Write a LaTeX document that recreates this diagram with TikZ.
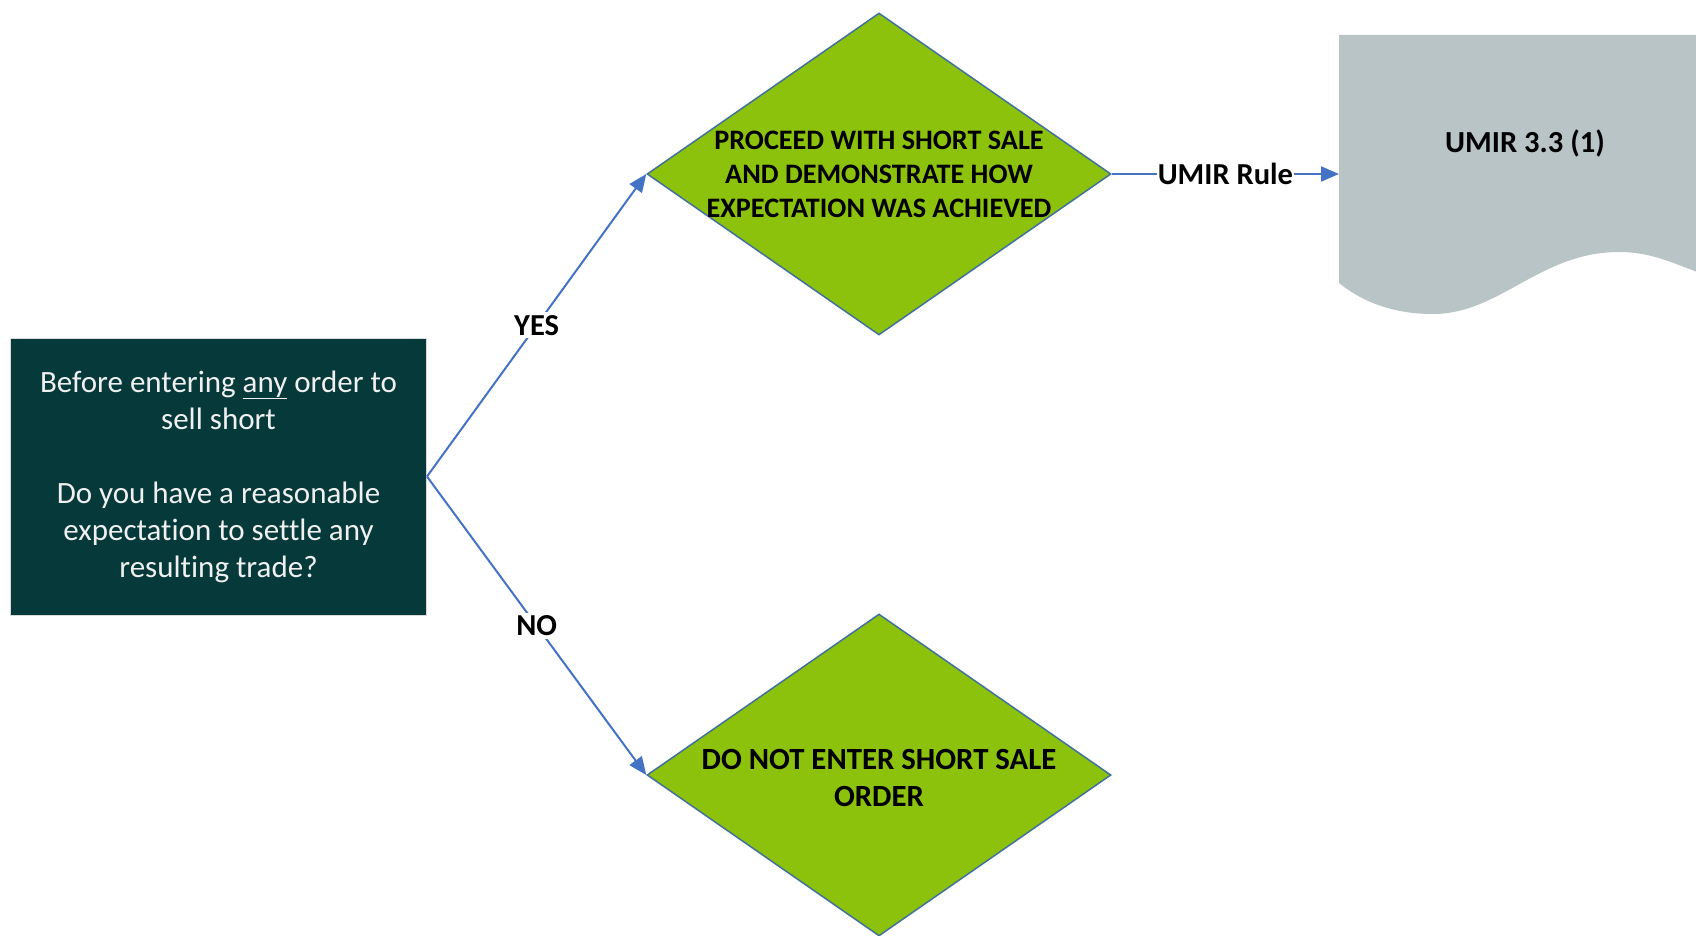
\documentclass[tikz,border=0pt]{standalone}
\usepackage{fontspec}
\setmainfont[Ligatures={NoCommon}]{Carlito}
\usetikzlibrary{shapes.geometric,arrows.meta}
\definecolor{darkteal}{HTML}{06393A}
\definecolor{limegreen}{HTML}{8CC20C}
\definecolor{docgray}{HTML}{B8C4C6}
\definecolor{edgeblue}{HTML}{41719C}
\definecolor{arrowblue}{HTML}{4472C4}
\tikzset{
  decision/.style={diamond, draw=edgeblue, line width=1.5pt, fill=limegreen,
    minimum width=464pt, minimum height=322pt, inner sep=0pt},
  dtext/.style={align=center, text=black, inner sep=0pt},
  question/.style={rectangle, fill=darkteal, draw=black!15, line width=1pt,
    minimum width=416pt, minimum height=277pt, inner sep=0pt,
    align=center, text=white!94!black, font=\fontsize{31}{37}\selectfont},
  conn/.style={draw=arrowblue, line width=2pt, -{Triangle[length=18pt,width=15pt]}},
  lbl/.style={fill=white, inner sep=3pt, text=black,
    font=\fontsize{30.5}{36}\selectfont\bfseries}
}
\begin{document}
\begin{tikzpicture}[x=1pt,y=-1pt]
\useasboundingbox (0,0) rectangle (1696,936);
% question box
\node[question] (q) at (218.5,476.5) {Before entering \underline{any} order to\\ sell short\\[37pt]
Do you have a reasonable\\ expectation to settle any\\ resulting trade?};
% decisions
\node[decision] (d1) at (879,174) {};
\node[dtext, font=\fontsize{28.2}{34}\selectfont\bfseries] (d1t) at (879,174)
  {PROCEED WITH SHORT SALE\\AND DEMONSTRATE HOW\\EXPECTATION WAS ACHIEVED};
\node[decision] (d2) at (879,775) {};
\node[dtext, font=\fontsize{30.8}{37}\selectfont\bfseries] (d2t) at (879,778)
  {DO NOT ENTER SHORT SALE\\ORDER};
% document shape
\fill[docgray] (1339,35) -- (1700,35) -- (1700,273)
  .. controls (1670,262) and (1650,252) .. (1619,252)
  .. controls (1540,252) and (1500,314) .. (1433,314)
  .. controls (1390,314) and (1360,300) .. (1339,283) -- cycle;
\node[font=\fontsize{30.6}{36}\selectfont\bfseries, text=black] (doct) at (1525,143) {UMIR 3.3 (1)};
\coordinate (docw) at (1339,174);
% connectors
\draw[conn] (q.east) -- node[lbl] (yes) {YES} (d1.west);
\draw[conn] (q.east) -- node[lbl] (no) {NO} (d2.west);
\draw[conn] (d1.east) -- node[lbl, inner sep=1pt] (rule) {UMIR Rule} (docw);
\end{tikzpicture}
\end{document}
